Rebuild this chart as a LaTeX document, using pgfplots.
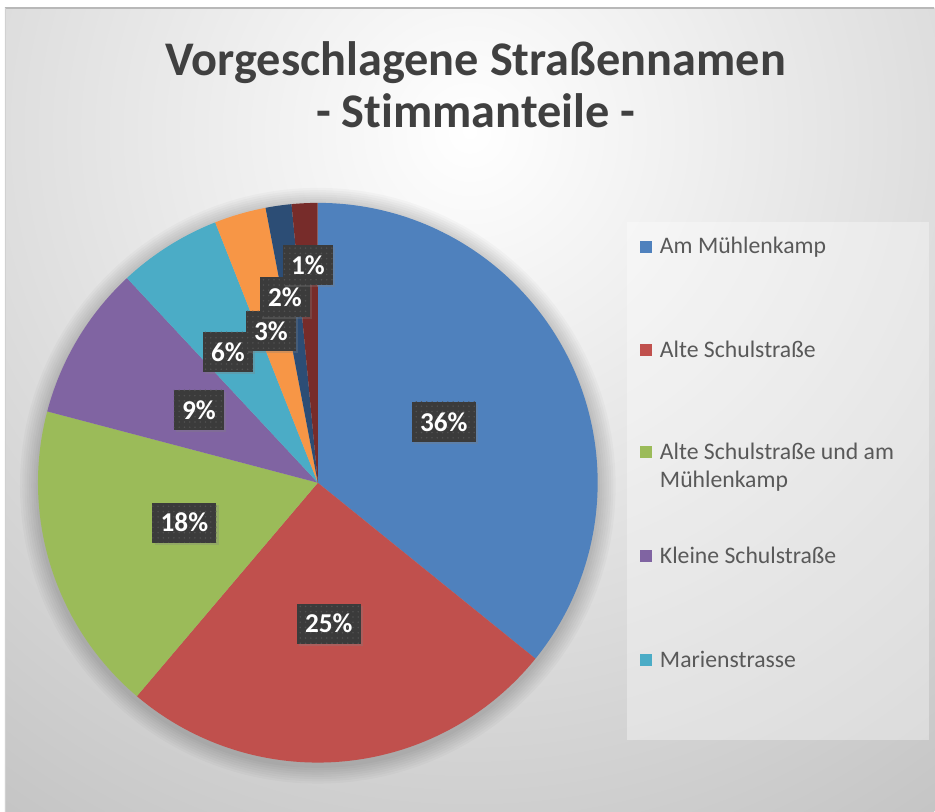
\documentclass[border=0pt]{standalone}
\usepackage{fontspec}
\setmainfont{Carlito}[Ligatures=NoCommon]
\usepackage{pgfplots}
\usepackage{pgfplotstable}
\pgfplotsset{compat=1.18}
\usetikzlibrary{patterns,shadows}

\definecolor{c0}{HTML}{4F81BD}
\definecolor{c1}{HTML}{C0504D}
\definecolor{c2}{HTML}{9BBB59}
\definecolor{c3}{HTML}{8064A2}
\definecolor{c4}{HTML}{4BACC6}
\definecolor{c5}{HTML}{F79646}
\definecolor{c6}{HTML}{2C4D75}
\definecolor{c7}{HTML}{772C2A}
\definecolor{titlec}{HTML}{404040}
\definecolor{legc}{HTML}{595959}
\definecolor{labbg}{HTML}{3B3B3B}
\definecolor{labdot}{HTML}{505050}

% votes per proposed street name (clockwise from 12 o'clock)
\pgfplotstableread{
idx value
0 24
1 17
2 12
3 6
4 4
5 2
6 1
7 1
}\piedata

% cumulative angles
\xdef\pietotal{0}
\foreach \i in {0,...,7}{%
  \pgfplotstablegetelem{\i}{value}\of\piedata
  \pgfmathsetmacro\tmp{\pietotal+\pgfplotsretval}%
  \xdef\pietotal{\tmp}%
}
\xdef\cumang{90}
\foreach \i in {0,...,7}{%
  \pgfplotstablegetelem{\i}{value}\of\piedata
  \pgfmathsetmacro\endang{\cumang-\pgfplotsretval/\pietotal*360}%
  \expandafter\xdef\csname sa\i\endcsname{\cumang}%
  \expandafter\xdef\csname ea\i\endcsname{\endang}%
  \xdef\cumang{\endang}%
}
\newcommand\sa[1]{\csname sa#1\endcsname}
\newcommand\ea[1]{\csname ea#1\endcsname}

\def\cx{6.36}
\def\cy{6.58}
\def\R{5.6}

\tikzset{lab/.style={fill=labbg, text=white, inner xsep=0.165cm, inner ysep=0pt,
  minimum height=0.8cm, font=\bfseries\fontsize{15.5}{18}\selectfont,
  postaction={pattern=dots, pattern color=labdot},
  drop shadow={opacity=0.3, shadow xshift=0.05cm, shadow yshift=-0.05cm}}}

\begin{document}
\begin{tikzpicture}
% background frame
\fill[white] (0,0) rectangle (18.7,16.24);
\begin{scope}
\clip (0.1,0) rectangle (18.7,16.08);
\shade[inner color=white, outer color=black!23] (9.4,13.6) circle[radius=16.6];
\end{scope}
\draw[black!28, line width=0.6pt] (0.1,16.08) -- (18.7,16.08);
\draw[black!18, line width=0.4pt] (0.1,0) -- (0.1,16.08);
\begin{axis}[hide axis, disabledatascaling, x=1cm, y=1cm,
  xmin=0, xmax=18.7, ymin=0, ymax=16.24, clip=false]
% legend panel
\fill[white, opacity=0.35] (axis cs:12.54,1.44) rectangle (axis cs:18.6,11.8);
% pie shadow
\pgfplotsinvokeforeach{1,...,8}{
  \fill[black, opacity=0.022] (axis cs:\cx,\cy-0.06) circle[radius={\R+0.045*#1}];
}
% wedges
\pgfplotsinvokeforeach{0,...,7}{
  \fill[c#1] (axis cs:\cx,\cy) -- (axis cs:{\cx+\R*cos(\sa{#1})},{\cy+\R*sin(\sa{#1})})
    arc[start angle=\sa{#1}, end angle=\ea{#1}, radius=\R] -- cycle;
}
% data labels
\node[lab] at (axis cs:8.88,7.80) {36\%};
\node[lab] at (axis cs:6.58,3.76) {25\%};
\node[lab] at (axis cs:3.69,5.78) {18\%};
\node[lab] at (axis cs:3.98,8.04) {9\%};
\node[lab] at (axis cs:4.56,9.20) {6\%};
\node[lab] at (axis cs:5.42,9.62) {3\%};
\node[lab] at (axis cs:5.70,10.30) {2\%};
\node[lab] at (axis cs:6.16,10.94) {1\%};
% title
\node[anchor=base, text=titlec, font=\bfseries\fontsize{27.5}{32}\selectfont]
  at (axis cs:9.52,14.72) {Vorgeschlagene Straßennamen};
\node[anchor=base, text=titlec, font=\bfseries\fontsize{27.5}{32}\selectfont]
  at (axis cs:9.52,13.68) {- St\kern0pt immanteile -};
% legend
\foreach \yy/\cc in {11.3/c0, 9.24/c1, 7.2/c2, 5.12/c3, 3.04/c4}{
  \edef\tmpcmd{\noexpand\fill[\cc] (axis cs:12.81,\yy-0.12) rectangle (axis cs:13.05,\yy+0.12);}
  \tmpcmd
}
\tikzset{legt/.style={anchor=west, text=legc, inner sep=0pt, font=\fontsize{13.5}{16}\selectfont}}
\node[legt] at (axis cs:13.2,11.3) {Am Mühlenkamp};
\node[legt] at (axis cs:13.2,9.24) {Alte Schulstraße};
\node[legt] at (axis cs:13.2,7.2) {Alte Schulstraße und am};
\node[legt] at (axis cs:13.2,6.62) {Mühlenkamp};
\node[legt] at (axis cs:13.2,5.12) {Kleine Schulstraße};
\node[legt] at (axis cs:13.2,3.04) {Marienstrasse};
\end{axis}
\end{tikzpicture}
\end{document}
